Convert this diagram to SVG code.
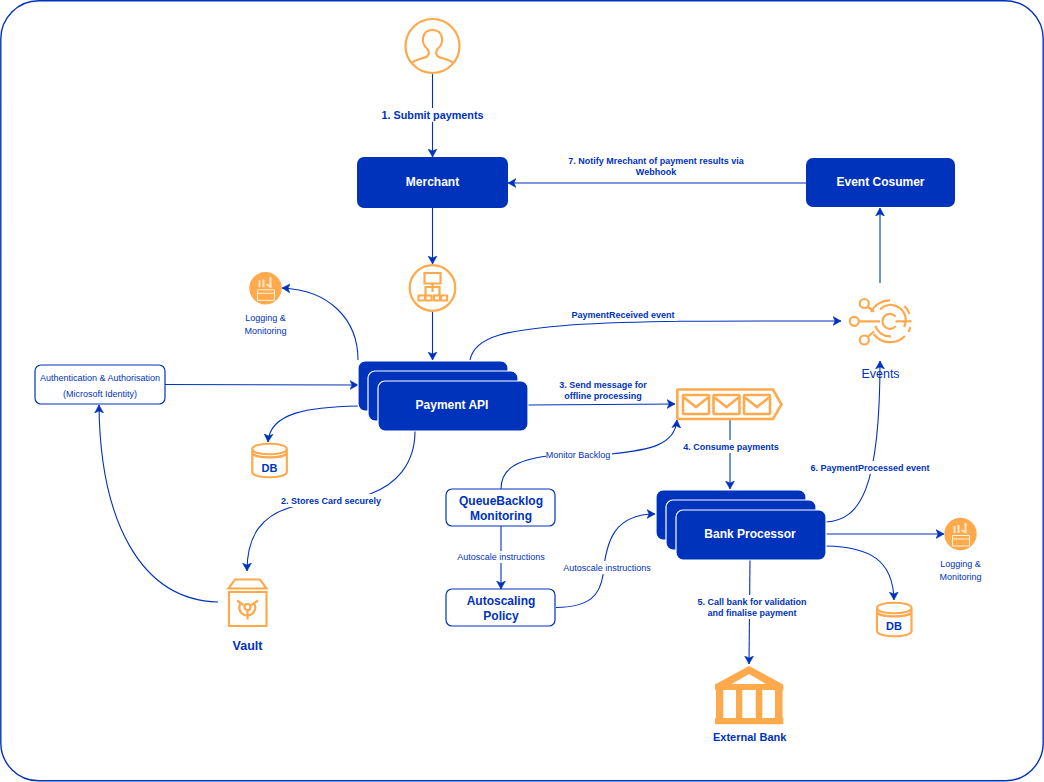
<svg xmlns="http://www.w3.org/2000/svg" width="1044" height="782" viewBox="0 0 1044 782">
<defs>
<marker id="arr" markerUnits="userSpaceOnUse" markerWidth="10" markerHeight="10" refX="8" refY="5" orient="auto"><path d="M0,0.5 L8,5 L0,9.5 L2,5 Z" fill="#0033BB" stroke="#0033BB" stroke-width="0.5"/></marker>
<g id="log-icon"><circle cx="0" cy="0" r="16.200" fill="#FFA94D"/>
<path d="M-8 1.500H9V12H-8Z M-8 5H9" fill="none" stroke="#FFF3E0" stroke-width="1"/>
<path d="M-6 -8v7M-2 -9v8M5 -11v9M1 -4l5 3" stroke="#FFE8CC" stroke-width="2" fill="none"/></g>
<g id="db-icon"><path class="o" d="M0 6C0 -1 34.500 -1 34.500 6V29C34.500 36 0 36 0 29Z M0 6C0 13 34.500 13 34.500 6M0 9.500C0 16 34.500 16 34.500 9.500"/></g>
</defs>
<style>
text{font-family:"Liberation Sans",Arial,sans-serif;fill:#0033BB;text-anchor:middle}
.c{fill:none;stroke:#0033BB;stroke-width:1.1;marker-end:url(#arr)}
.n{stroke:none;fill:#0033BB}
.box{fill:#0033BB;stroke:#fff;stroke-width:1.2}
.t{fill:#fff;font-weight:bold;font-size:12px}
.lb{font-size:9px;font-weight:bold}
.ls{font-size:9px}
.o{fill:none;stroke:#FFA94D;stroke-width:2.200}
.e{fill:none;stroke:#FFA94D;stroke-width:2.600}
.wb{fill:#fff;stroke:#0033BB;stroke-width:1.2}
.bg{fill:#fff;stroke:none}
.dbt{font-size:11px;font-weight:bold}
</style>
<rect x="0.8" y="0.8" width="1042.4" height="780" rx="38" fill="#fff" stroke="#0033BB" stroke-width="1.4"/>
<g id="connectors">
<path class="c" d="M432.500 74V157"/>
<path class="c" d="M806 183H508"/>
<path class="c" d="M432.500 208V264"/>
<path class="c" d="M432.500 311V360"/>
<path class="c" d="M358 360C358 320 330 290 282 288"/>
<path class="c" d="M470 360C475 335 510 330 570 325C650 320 750 321 841 321"/>
<path class="c" d="M880 283V208"/>
<path class="c" d="M165 384.500L358 385"/>
<path class="c" d="M358 406C310 407 270 412 268 442"/>
<path class="c" d="M415 431C415 465 395 485 370 494C340 503 315 500 290 507.500C262 516 247 535 247 571"/>
<path class="c" d="M218 602C140 600 100 520 99 405"/>
<path class="c" d="M528 405L675 404"/>
<path class="c" d="M501 489C501 470 515 460 548 456L611 454C650 450 675 445 677 420"/>
<path class="c" d="M730 420V489"/>
<path class="c" d="M501 526V589"/>
<path class="c" d="M556 607.500C590 607 600 595 603 575C606 540 615 514 655 514"/>
<path class="c" d="M826 522C860 520 880 490 880 361"/>
<path class="c" d="M826 534H944"/>
<path class="c" d="M826 546C870 547 893 560 894 600"/>
<path class="c" d="M750 560L749 664"/>
</g>
<g id="label-bgs">
<rect class="bg" x="378" y="108" width="108" height="14"/>
<rect class="bg" x="562" y="154" width="190" height="24"/>
<rect class="bg" x="569" y="308" width="108" height="13"/>
<rect class="bg" x="278" y="494" width="106" height="13"/>
<rect class="bg" x="546" y="449" width="66" height="12"/>
<rect class="bg" x="681" y="440" width="100" height="13"/>
<rect class="bg" x="456" y="551" width="92" height="12"/>
<rect class="bg" x="562" y="561" width="92" height="13"/>
<rect class="bg" x="808" y="461" width="124" height="13"/>
<rect class="bg" x="696" y="595" width="112" height="24"/>
</g>
<g id="customer"><circle class="o" cx="432.500" cy="46" r="27"/>
<path class="o" d="M411.500 63C416 59 424 58.500 427 56.500C430 54 429 51 427 48.500C424 46 422.500 42 423 38C424 32 428 30 432.500 30C437 30 441 32 442 38C442.500 42 441 46 438 48.500C436 51 435 54 438 56.500C441 58.500 449 59 453.500 63"/></g>
<g id="merchant"><rect class="n" x="357" y="157" width="151" height="51" rx="7"/><text class="t" x="432.500" y="186">Merchant</text></g>
<g id="event-consumer"><rect class="n" x="806" y="158" width="149" height="49" rx="7"/><text class="t" x="880.500" y="186">Event Cosumer</text></g>
<g id="gateway"><circle class="o" cx="432.500" cy="288" r="22.800"/>
<path class="o" d="M424.500 273H440.500V283.500H424.500ZM432.500 283.500V292M425.500 296V287H439.500V296M418.500 295.500H425V300.500H418.500Z M425.500 295.500H431.500V300.500H425.500ZM434 295.500H440V300.500H434ZM441 295.500H447V300.500H441Z"/></g>
<g id="logging-1"><use href="#log-icon" x="265.500" y="288.300"/>
<text class="ls" x="265.500" y="321">Logging &amp;</text><text class="ls" x="265.500" y="334">Monitoring</text></g>
<g id="events"><circle cx="854.300" cy="321.300" r="4.500" class="o"/><circle cx="864.300" cy="303.500" r="4.500" class="o"/><circle cx="864.300" cy="340" r="4.500" class="o"/>
<path class="o" d="M859 321.300H880M868 307L874 311.500M868 336.500L874 331.500"/>
<path class="o" d="M895.700 316.500A7.500 7.500 0 1 0 895.700 326.100"/>
<path class="o" d="M895.500 321.300H911.500"/>
<path class="o" d="M880 309.500A15 15 0 0 1 904 327M875.500 326A15 15 0 0 0 891 336.300"/>
<path class="o" d="M871 312A21 21 0 0 1 890 300.300M873.500 334A21 21 0 0 0 905 336M904.500 306A21 21 0 0 1 909.500 314M910.500 327L908.500 332"/>
<text x="880.500" y="378" style="font-size:12.500px">Events</text></g>
<g id="payment-api">
<rect class="box" x="358" y="361" width="150" height="50" rx="7"/>
<rect class="box" x="368" y="371" width="150" height="50" rx="7"/>
<rect class="box" x="378" y="381" width="150" height="50" rx="7"/>
<text class="t" x="452" y="409">Payment API</text></g>
<g id="auth"><rect class="wb" x="35" y="365" width="130" height="39" rx="6"/><text x="100" y="381" style="font-size:9px">Authentication &amp; Authorisation</text><text x="100" y="397" style="font-size:9px">(Microsoft Identity)</text></g>
<g id="db-1"><use href="#db-icon" x="252.300" y="443"/><text class="dbt" x="269.500" y="472">DB</text></g>
<g id="vault"><path class="o" d="M228.500 588.500L235 579.500H260L266.500 588.500ZM229 592H266.500V626H229Z"/><path class="o" d="M241 602.500A8 8 0 1 0 253.500 602.500"/><circle class="o" cx="247.500" cy="607" r="3"/><path class="o" d="M237 600.500L243.500 605M258 600.500L251.500 605M247.500 610.500V619.500"/><text x="247.500" y="650" style="font-size:12.500px;font-weight:bold">Vault</text></g>
<g id="queue"><path class="e" d="M678 389.500H773L781.500 404.500L773 419H678Q677.300 419 677.300 418V390.500Q677.300 389.500 678 389.500Z"/>
<rect class="e" x="683" y="395" width="26" height="19" rx="1"/><path class="e" d="M684 397.500L696 407L708 397.500"/>
<rect class="e" x="713.500" y="395" width="26" height="19" rx="1"/><path class="e" d="M714.500 397.500L726.500 407L738.500 397.500"/>
<rect class="e" x="744" y="395" width="26" height="19" rx="1"/><path class="e" d="M745 397.500L757 407L769 397.500"/></g>
<g id="queue-monitoring"><rect class="wb" x="446" y="489" width="109" height="37" rx="6"/><text x="501" y="505" style="font-size:12px;font-weight:bold">QueueBacklog</text><text x="501" y="520" style="font-size:12px;font-weight:bold">Monitoring</text></g>
<g id="autoscaling"><rect class="wb" x="446" y="589" width="109" height="37" rx="6"/><text x="501" y="605" style="font-size:12px;font-weight:bold">Autoscaling</text><text x="501" y="620" style="font-size:12px;font-weight:bold">Policy</text></g>
<g id="bank-processor">
<rect class="box" x="656" y="490" width="150" height="50" rx="7"/>
<rect class="box" x="666" y="500" width="150" height="50" rx="7"/>
<rect class="box" x="676" y="510" width="150" height="50" rx="7"/>
<text class="t" x="750" y="538">Bank Processor</text></g>
<g id="logging-2"><use href="#log-icon" x="960.500" y="534"/>
<text class="ls" x="960.500" y="567">Logging &amp;</text><text class="ls" x="960.500" y="580">Monitoring</text></g>
<g id="db-2"><use href="#db-icon" x="877" y="602"/><text class="dbt" x="894" y="629.500">DB</text></g>
<g id="external-bank"><path fill="#FFA94D" fill-rule="evenodd" d="M749 666L783.300 684.500V690H715V684.500ZM749 674L731.700 684H766Z M716 690H723.300V718H716ZM736 690H742.300V718H736ZM755.700 690H762.300V718H755.700ZM775 690H782.500V718H775ZM715 718H783.300V724.300H715Z"/><text x="749.700" y="741" style="font-size:11px;font-weight:bold">External Bank</text></g>
<g id="labels">
<text x="432.500" y="119" style="font-size:10.800px;font-weight:bold">1. Submit payments</text>
<text class="lb" x="656" y="164">7. Notify Mrechant of payment results via</text>
<text class="lb" x="656" y="175">Webhook</text>
<text class="lb" x="623" y="318">PaymentReceived event</text>
<text class="lb" x="331" y="504">2. Stores Card securely</text>
<text class="lb" x="603" y="388">3. Send message for</text>
<text class="lb" x="603" y="399">offline processing</text>
<text class="ls" x="578" y="458">Monitor Backlog</text>
<text class="lb" x="731" y="450">4. Consume payments</text>
<text class="ls" x="501" y="560">Autoscale instructions</text>
<text class="ls" x="607" y="571">Autoscale instructions</text>
<text class="lb" x="870" y="471">6. PaymentProcessed event</text>
<text class="lb" x="752" y="605">5. Call bank for validation</text>
<text class="lb" x="752" y="616">and finalise payment</text>
</g>
</svg>
